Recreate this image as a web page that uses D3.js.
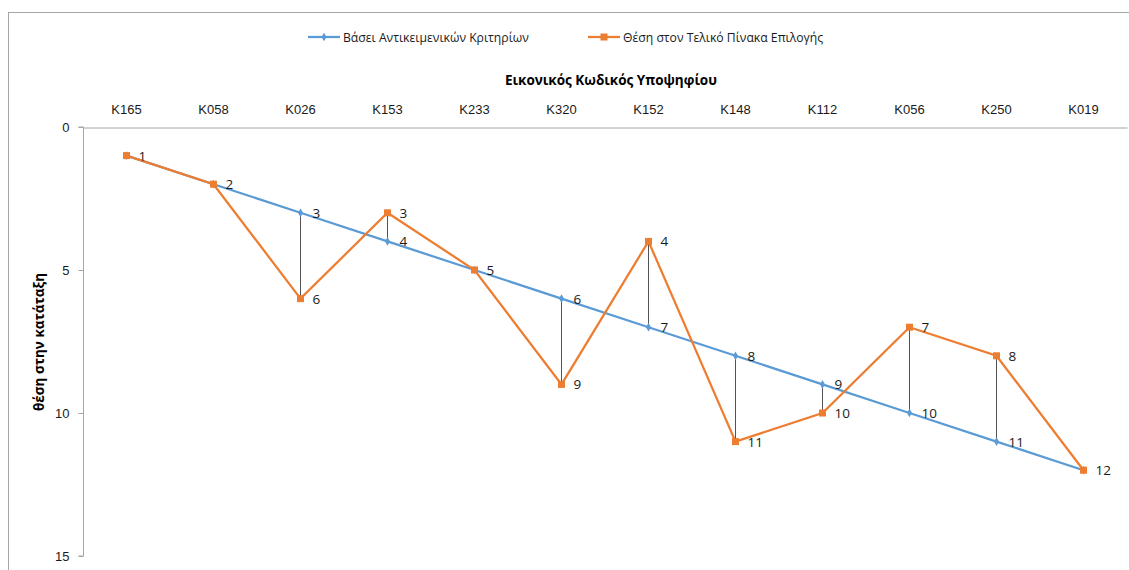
<!DOCTYPE html>
<html><head><meta charset="utf-8">
<script src="https://cdn.jsdelivr.net/npm/d3@7/dist/d3.min.js"></script>
<style>
body{margin:0;background:#fff;}
svg{display:block;font-family:"Open Sans","Noto Sans",sans-serif;}
</style></head>
<body>
<svg id="c" width="1129" height="570"></svg>
<script>
const categories = ["K165","K058","K026","K153","K233","K320","K152","K148","K112","K056","K250","K019"];
const objectiveRank = [1,2,3,4,5,6,7,8,9,10,11,12];
const finalRank = [1,2,6,3,5,9,4,11,10,7,8,12];
const yTicks = [0,5,10,15];
const seriesNames = ["Βάσει Αντικειμενικών Κριτηρίων","Θέση στον Τελικό Πίνακα Επιλογής"];
const xTitle = "Εικονικός Κωδικός Υποψηφίου";
const yTitle = "θέση στην κατάταξη";

(function(){
const blue = "#5B9BD5", orange = "#ED7D31";
const svg = d3.select("#c");
const pL = 83, pR = 1127, pT = 127, pB = 556;

// outer border
svg.append("rect").attr("x",8.5).attr("y",12.5).attr("width",1140).attr("height",600)
  .attr("fill","none").attr("stroke","#A6A6A6").attr("stroke-width",1);

const x = d3.scaleBand().domain(categories).range([pL,pR]);
const y = d3.scaleLinear().domain([0,15]).range([pT,pB]);
const cx = c => x(c) + x.bandwidth()/2;

// x axis at top
const xAxis = svg.append("g").attr("transform",`translate(0,${pT+0.5})`)
  .call(d3.axisTop(x).tickSize(0).tickPadding(14));
xAxis.select(".domain").attr("stroke","#A6A6A6");
xAxis.selectAll("text").attr("font-size",13).attr("fill","#1a1a1a");

// y axis
const yAxis = svg.append("g").attr("transform",`translate(${pL+0.5},0)`)
  .call(d3.axisLeft(y).tickValues(yTicks).tickSize(5).tickPadding(9));
yAxis.select(".domain").attr("stroke","#A6A6A6").attr("d",`M-5,${pT}H0V${pB}H-5`);
yAxis.selectAll(".tick line").attr("stroke","#A6A6A6");
yAxis.selectAll("text").attr("font-size",13).attr("fill","#1a1a1a");

// titles
svg.append("text").attr("x",611).attr("y",85).attr("text-anchor","middle")
  .attr("font-size",13.5).attr("font-weight","bold").attr("fill","#000").text(xTitle);
svg.append("text").attr("transform","translate(44,342) rotate(-90)").attr("text-anchor","middle")
  .attr("font-size",13.5).attr("font-weight","bold").attr("fill","#000").text(yTitle);

// drop lines
svg.append("g").selectAll("line").data(categories).join("line")
  .attr("x1",d=>cx(d)).attr("x2",d=>cx(d))
  .attr("y1",(d,i)=>y(objectiveRank[i])).attr("y2",(d,i)=>y(finalRank[i]))
  .attr("stroke","#404040").attr("stroke-width",0.9);

const line = d3.line().x((d,i)=>cx(categories[i])).y(d=>y(d));

// blue series
svg.append("path").datum(objectiveRank).attr("d",line).attr("fill","none")
  .attr("stroke",blue).attr("stroke-width",2.25);
svg.append("g").selectAll("path").data(objectiveRank).join("path")
  .attr("d",d3.symbol(d3.symbolDiamond,22)())
  .attr("transform",(d,i)=>`translate(${cx(categories[i])},${y(d)})`).attr("fill",blue);

// orange series
svg.append("path").datum(finalRank).attr("d",line).attr("fill","none")
  .attr("stroke",orange).attr("stroke-width",2.25);
svg.append("g").selectAll("rect").data(finalRank).join("rect")
  .attr("x",(d,i)=>cx(categories[i])-3.5).attr("y",d=>y(d)-3.5)
  .attr("width",7).attr("height",7).attr("fill",orange);

// labels
const labels = svg.append("g").attr("font-size",13.5).attr("fill","#1a1a1a");
objectiveRank.forEach((d,i)=>{
  labels.append("text").attr("x",cx(categories[i])+12).attr("y",y(d)+5).text(d);
});
finalRank.forEach((d,i)=>{
  if (d===objectiveRank[i]) return;
  labels.append("text").attr("x",cx(categories[i])+12).attr("y",y(d)+5).text(d);
});

// legend
const lg = svg.append("g").attr("font-size",12.2).attr("fill","#1a1a1a");
lg.append("line").attr("x1",308).attr("x2",340).attr("y1",37).attr("y2",37).attr("stroke",blue).attr("stroke-width",2.25);
lg.append("path").attr("d",d3.symbol(d3.symbolDiamond,22)()).attr("transform","translate(324,37)").attr("fill",blue);
lg.append("text").attr("x",343).attr("y",42).text(seriesNames[0]);
lg.append("line").attr("x1",588).attr("x2",620).attr("y1",37).attr("y2",37).attr("stroke",orange).attr("stroke-width",2.25);
lg.append("rect").attr("x",600.5).attr("y",33.5).attr("width",7).attr("height",7).attr("fill",orange);
lg.append("text").attr("x",623).attr("y",42).text(seriesNames[1]);
})();
</script>
</body></html>
